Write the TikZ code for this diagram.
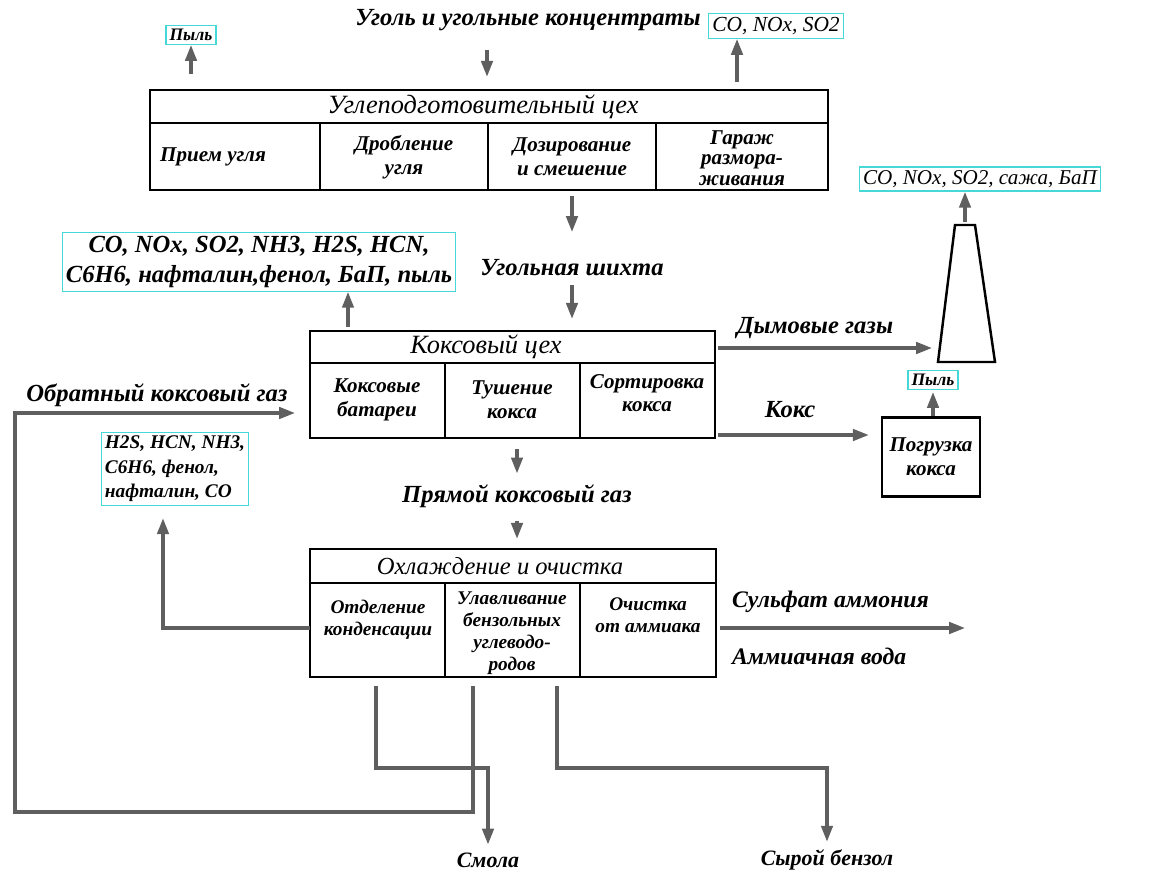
\documentclass[tikz,border=0pt]{standalone}
\usepackage{fontspec}
\setmainfont{Liberation Serif}
\usetikzlibrary{arrows.meta}
\definecolor{emisline}{RGB}{70,215,215}
\definecolor{flowgray}{RGB}{95,95,95}
\begin{document}
\begin{tikzpicture}[x=0.02cm,y=-0.02cm,
  lbl/.style={font=\fontsize{14}{16}\selectfont\bfseries\itshape, inner sep=1pt},
  head/.style={font=\fontsize{15}{17}\selectfont\itshape, inner sep=1pt},
  cell/.style={font=\fontsize{12}{13.5}\selectfont\bfseries\itshape, align=center, inner sep=1pt},
  smallcell/.style={font=\fontsize{11}{12.5}\selectfont\bfseries\itshape, align=center, inner sep=1pt},
  shop/.style 2 args={draw, line width=1.4pt, minimum width=#1, minimum height=#2, inner sep=0pt},
  emis/.style={draw=emisline, line width=0.8pt, inner sep=2pt},
  flow/.style={draw=flowgray, line width=1.8pt, -{Triangle[length=9pt,width=6.5pt]}},
  part/.style={line width=1.4pt}]
\useasboundingbox (0,0) rectangle (1156,875);

% coal preparation shop
\node[shop={13.56cm}{2cm}] (prep) at (489,140) {};
\draw[part] (150,123) -- (828,123);
\foreach \x in {320,488,656}
  \draw[part] (\x,123) -- (\x,190);
\node[head] (prephead) at (483,107) {Углеподготовительный цех};
\node[cell] (recv) at (213,157) {Прием угля};
\node[cell] (crush) at (404,157) {Дробление\\угля};
\node[cell] (dose) at (572,157) {Дозирование\\и смешение};
\node[cell, font=\fontsize{12}{11.8}\selectfont\bfseries\itshape] (thaw) at (742,158) {Гараж\\размора-\\живания};

% coke shop
\node[shop={8.1cm}{2.14cm}] (coke) at (512.5,384.5) {};
\draw[part] (310,363) -- (715,363);
\foreach \x in {445,580}
  \draw[part] (\x,363) -- (\x,438);
\node[head] (cokehead) at (486,347) {Коксовый цех};
\node[cell] (batt) at (377,400) {Коксовые\\батареи};
\node[cell] (quench) at (512,400) {Тушение\\кокса};
\node[cell] (sort) at (647,393) {Сортировка\\кокса};

% cooling and cleaning
\node[shop={8.12cm}{2.56cm}] (cool) at (513,613) {};
\draw[part] (310,583) -- (716,583);
\foreach \x in {445,580}
  \draw[part] (\x,583) -- (\x,677);
\node[head, font=\fontsize{14}{16}\selectfont\itshape] (coolhead) at (500,566) {Охлаждение и очистка};
\node[smallcell] (cond) at (378,620) {Отделение\\конденсации};
\node[smallcell] (benzrec) at (512,633) {Улавливание\\бензольных\\углеводо-\\родов};
\node[smallcell] (ammrec) at (648,615) {Очистка\\от аммиака};

% coke loading and stack
\node[shop={1.96cm}{1.58cm}, cell] (load) at (931,457) {Погрузка\\кокса};
\draw[line width=1.4pt] (938,362) -- (955,225) -- (975,225) -- (995,362) -- cycle;
\coordinate (stacktop) at (965,225);
\coordinate (stackin) at (936,348);

% emissions
\node[emis, font=\fontsize{10}{11}\selectfont\bfseries\itshape] (dustA) at (191,35) {Пыль};
\node[emis, font=\fontsize{12.2}{15}\selectfont\itshape] (gasA) at (776,26) {CO, NOx, SO2};
\node[emis, align=center, font=\fontsize{14}{17}\selectfont\bfseries\itshape] (gasB) at (259,262) {CO, NOx, SO2, NH3, H2S, HCN,\\C6H6, нафталин,фенол, БаП, пыль};
\node[emis, align=left, font=\fontsize{11}{14}\selectfont\bfseries\itshape] (gasC) at (175,469) {H2S, HCN, NH3,\\C6H6, фенол,\\нафталин, CO};
\node[emis, font=\fontsize{12}{15}\selectfont\itshape] (gasD) at (980,179) {CO, NOx, SO2, сажа, БаП};
\node[emis, font=\fontsize{10}{11}\selectfont\bfseries\itshape] (dustB) at (933,380) {Пыль};

% stream labels
\node[lbl] (coal) at (528,20) {Уголь и угольные концентраты};
\node[lbl] (charge) at (572,268) {Угольная шихта};
\node[lbl] (flue) at (815,328) {Дымовые газы};
\node[lbl] (cokeout) at (790,410) {Кокс};
\node[lbl] (backgas) at (157,395) {Обратный коксовый газ};
\node[lbl] (rawgas) at (517,496) {Прямой коксовый газ};
\node[lbl, anchor=west, font=\fontsize{13.5}{16}\selectfont\bfseries\itshape] (sulf) at (730,602) {Сульфат аммония};
\node[lbl, anchor=west, font=\fontsize{13.5}{16}\selectfont\bfseries\itshape] (ammw) at (730,656) {Аммиачная вода};
\node[lbl, font=\fontsize{12.5}{14}\selectfont\bfseries\itshape] (tar) at (488,860) {Смола};
\node[lbl, font=\fontsize{12.5}{14}\selectfont\bfseries\itshape] (benz) at (827,860) {Сырой бензол};

% free ends
\coordinate (coalin) at (487,50);
\coordinate (gasBfoot) at (348,331);
\coordinate (flueout) at (718,348);
\coordinate (cokeexit) at (718,435);
\coordinate (recyc) at (473,686);
\coordinate (loopbot) at (15,812);
\coordinate (backin) at (310,413);
\coordinate (condout) at (310,628);
\coordinate (ammout) at (720,628);
\coordinate (ammend) at (965,628);
\coordinate (tarout) at (376,686);
\coordinate (benzout) at (557,686);

% flows
\draw[flow, shorten <=0.3cm] (prep.north -| dustA) -- (dustA);
\draw[flow, shorten >=0.24cm] (coalin) -- (coalin |- prep.north);
\draw[flow, shorten <=0.14cm] ([xshift=-0.78cm]gasA.south |- prep.north) -- ([xshift=-0.78cm]gasA.south);
\draw[flow, shorten <=0.1cm, shorten >=0.72cm] (prep.south -| charge) -- (charge.center);
\draw[flow, shorten <=0.14cm, shorten >=0.22cm] (charge) -- (charge |- coke.north);
\draw[flow, shorten <=0.08cm] (gasBfoot) -- (gasBfoot |- gasB.south);
\draw[flow, shorten >=0.08cm] (flueout) -- (stackin);
\draw[flow, shorten <=0.06cm] (stacktop) -- (stacktop |- gasD.south);
\draw[flow, shorten >=0.24cm] (cokeexit) -- (cokeexit -| load.west);
\draw[flow, shorten >=0.04cm] (load.north -| dustB) -- (dustB);
\draw[flow, shorten >=0.3cm] (recyc) |- (loopbot) |- (backin);
\draw[flow, shorten <=0.2cm, shorten >=0.18cm] (coke.south -| rawgas) -- (rawgas);
\draw[flow, shorten <=0.22cm, shorten >=0.18cm] (rawgas) -- (rawgas |- cool.north);
\draw[flow, shorten >=0.24cm] (condout) -| ([xshift=-0.24cm]gasC.south);
\draw[flow] (ammout) -- (ammend);
\draw[flow, shorten >=0.12cm] (tarout) -- ++(0,82) -| (tar);
\draw[flow, shorten >=0.12cm] (benzout) -- ++(0,82) -| (benz);
\end{tikzpicture}
\end{document}
